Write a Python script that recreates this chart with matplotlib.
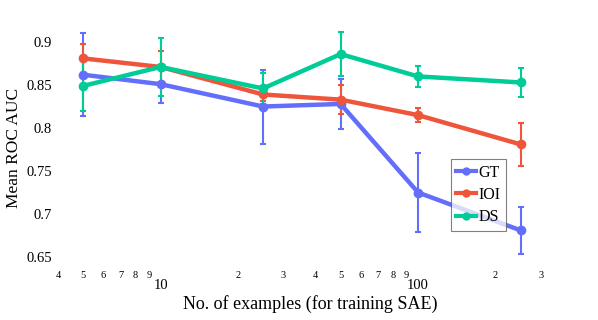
import matplotlib.pyplot as plt
from matplotlib.lines import Line2D
from matplotlib.ticker import FixedLocator, FixedFormatter

plt.rcParams['font.family'] = ['Liberation Serif', 'DejaVu Serif']

n_examples = [5, 10, 25, 50, 100, 250]

gt_mean = [0.862, 0.851, 0.825, 0.828, 0.725, 0.681]
gt_err = [0.048, 0.022, 0.043, 0.029, 0.046, 0.027]

ioi_mean = [0.881, 0.871, 0.839, 0.833, 0.815, 0.781]
ioi_err = [0.017, 0.018, 0.008, 0.017, 0.008, 0.025]

ds_mean = [0.849, 0.871, 0.846, 0.886, 0.860, 0.853]
ds_err = [0.029, 0.034, 0.018, 0.026, 0.012, 0.017]

series = [("GT", gt_mean, gt_err, "#636efa"),
          ("IOI", ioi_mean, ioi_err, "#ef553b"),
          ("DS", ds_mean, ds_err, "#00cc96")]

fig = plt.figure(figsize=(5.98, 3.2), dpi=100)
W, H = 598, 320
left, right, top, bottom = 55, 565, 30, 265
ax = fig.add_axes([left / W, 1 - bottom / H, (right - left) / W, (bottom - top) / H])

handles = []
for name, m, e, c in series:
    ax.errorbar(n_examples, m, yerr=e, color=c, lw=3.2, marker='o', ms=6,
                elinewidth=1.5, capsize=2.5, capthick=1.5)
    handles.append(Line2D([], [], color=c, lw=3, marker='o', ms=5, label=name))

ax.set_xscale('log')
ax.set_xlim(3.89, 372)
ax.set_ylim(0.6407, 0.914)

ax.xaxis.set_major_locator(FixedLocator([10, 100]))
ax.xaxis.set_major_formatter(FixedFormatter(['10', '100']))
minor = [4, 5, 6, 7, 8, 9, 20, 30, 40, 50, 60, 70, 80, 90, 200, 300]
ax.xaxis.set_minor_locator(FixedLocator(minor))
ax.xaxis.set_minor_formatter(FixedFormatter([str(v)[0] for v in minor]))
ax.tick_params(axis='x', which='major', length=0, pad=10, labelsize=10.5)
ax.tick_params(axis='x', which='minor', length=0, pad=4, labelsize=7.5)

ax.set_yticks([0.65, 0.7, 0.75, 0.8, 0.85, 0.9])
ax.set_yticklabels(['0.65', '0.7', '0.75', '0.8', '0.85', '0.9'])
ax.tick_params(axis='y', length=0, pad=2, labelsize=10.5)

for s in ax.spines.values():
    s.set_visible(False)

ax.set_xlabel("No. of examples (for training SAE)", fontsize=13, labelpad=2)
ax.set_ylabel("Mean ROC AUC", fontsize=12.5, labelpad=3)

leg = ax.legend(handles=handles, loc='upper left', bbox_to_anchor=(0.776, 0.451),
                borderaxespad=0, fontsize=11.5, frameon=True, fancybox=False,
                handlelength=1.2, handletextpad=0.2, borderpad=0.35,
                labelspacing=0.4)
leg.get_frame().set_edgecolor('#555555')
leg.get_frame().set_linewidth(0.8)
leg.get_frame().set_alpha(0.75)

fig.savefig("out.png", dpi=100)
